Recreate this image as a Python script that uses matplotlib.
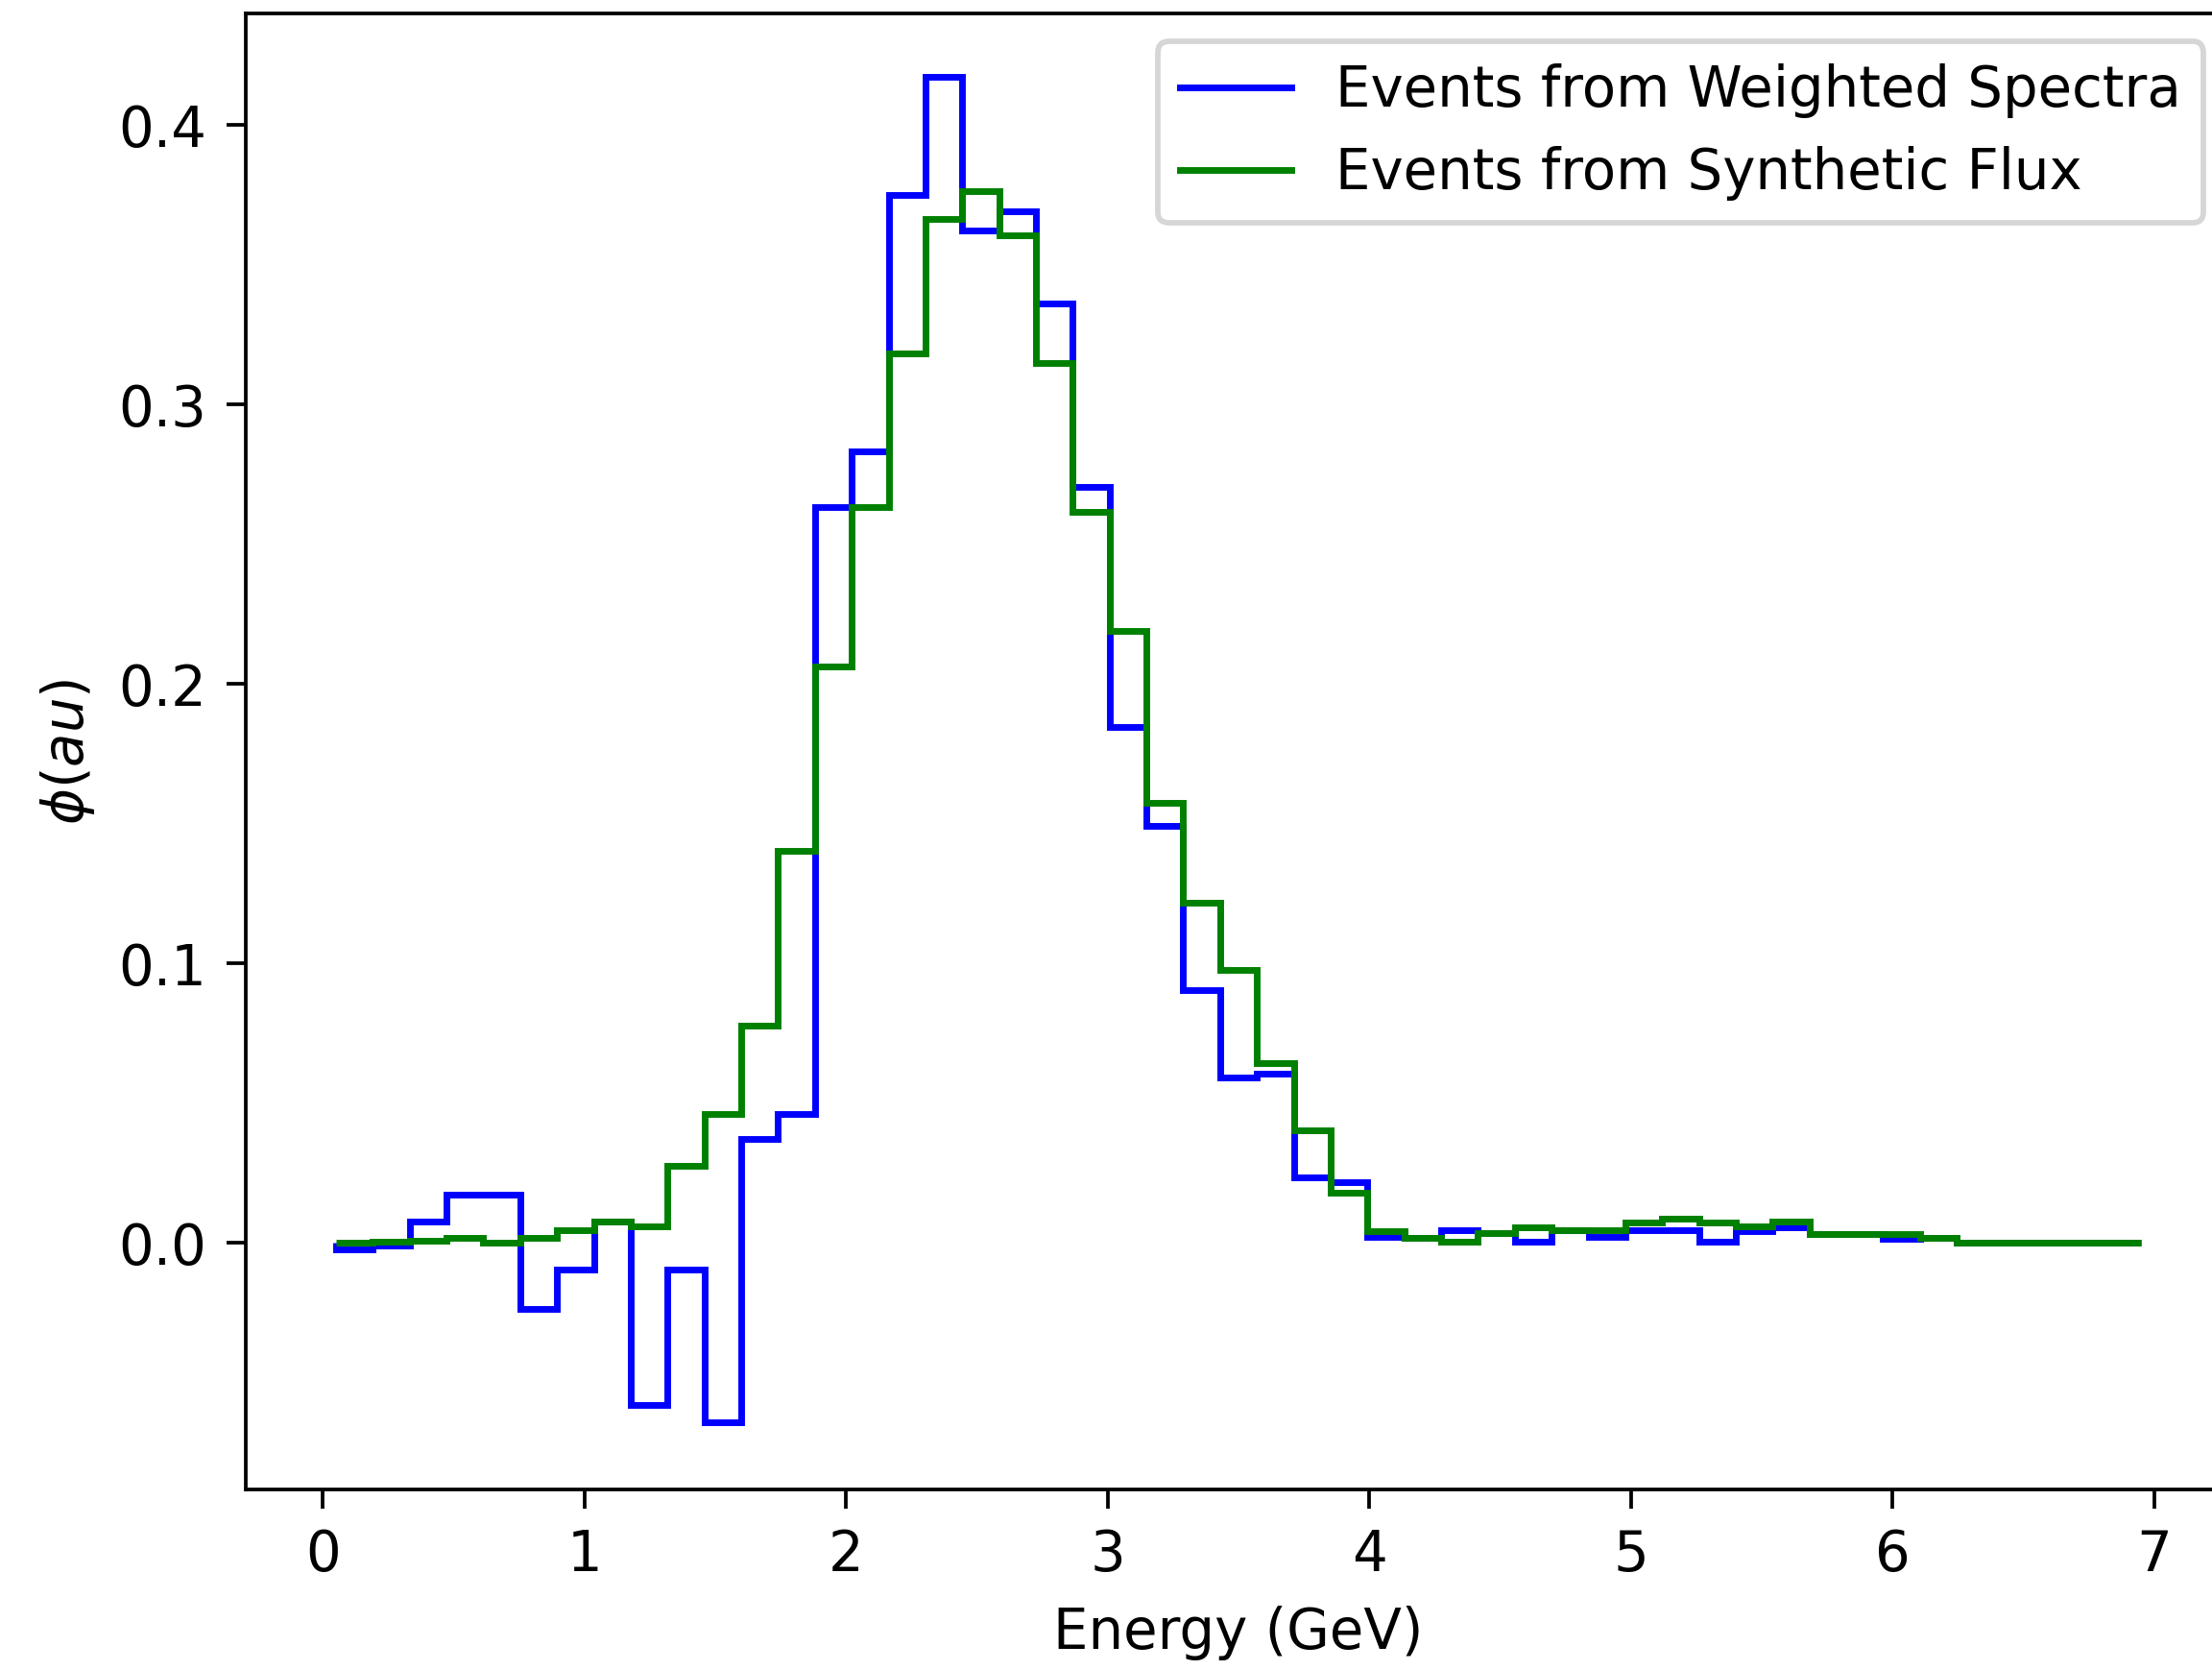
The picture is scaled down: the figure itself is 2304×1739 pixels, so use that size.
import numpy as np
import matplotlib
matplotlib.use("Agg")
import matplotlib.pyplot as plt

# energy binning (GeV): 49 bins between 0.05 and 6.95
E_MIN, E_MAX, N_BINS = 0.05, 6.95, 49
edges = np.linspace(E_MIN, E_MAX, N_BINS + 1)

weighted = [
    -0.0023, -0.0011, 0.0075, 0.0174, 0.0174, -0.0238, -0.0095, 0.0075,
    -0.0582, -0.0095, -0.0642, 0.0371, 0.0461, 0.2634, 0.2833, 0.3750,
    0.4175, 0.3623, 0.3692, 0.3363, 0.2704, 0.1847, 0.1492, 0.0905,
    0.0592, 0.0606, 0.0234, 0.0217, 0.0020, 0.0016, 0.0045, 0.0034,
    0.0005, 0.0045, 0.0022, 0.0045, 0.0045, 0.0005, 0.0043, 0.0054,
    0.0031, 0.0031, 0.0014, 0.0019, 0.0002, 0.0002, 0.0002, 0.0002,
    0.0002,
]

synthetic = [
    0.0000, 0.0003, 0.0007, 0.0017, 0.0000, 0.0017, 0.0046, 0.0075,
    0.0060, 0.0274, 0.0461, 0.0776, 0.1404, 0.2063, 0.2634, 0.3182,
    0.3663, 0.3763, 0.3606, 0.3150, 0.2618, 0.2190, 0.1574, 0.1217,
    0.0976, 0.0644, 0.0403, 0.0180, 0.0042, 0.0016, 0.0005, 0.0034,
    0.0056, 0.0045, 0.0045, 0.0073, 0.0088, 0.0073, 0.0060, 0.0077,
    0.0031, 0.0031, 0.0031, 0.0019, 0.0002, 0.0002, 0.0002, 0.0002,
    0.0002,
]

plt.rcParams["axes.linewidth"] = 0.65
plt.rcParams["xtick.major.width"] = 0.65
plt.rcParams["ytick.major.width"] = 0.65

DPI = 416
fig = plt.figure(figsize=(2304 / DPI, 1739 / DPI), dpi=DPI)
# axes runs a bit past the right edge, as in the original crop
ax = fig.add_axes([0.1111, 0.1081, 0.8976, 0.8838])

ax.stairs(weighted, edges, color="blue", linewidth=1.2,
          label="Events from Weighted Spectra")
ax.stairs(synthetic, edges, color="green", linewidth=1.2,
          label="Events from Synthetic Flux")

ax.set_xlim(-0.295, 7.295)
ax.set_ylim(-0.0883, 0.440)
ax.set_xticks(range(0, 8))
ax.set_yticks([0.0, 0.1, 0.2, 0.3, 0.4])
ax.set_xlabel("Energy (GeV)")
ax.set_ylabel(r"$\phi (au)$")
leg = ax.legend(loc="upper right")
for line in leg.get_lines():
    line.set_linewidth(1.2)

fig.savefig("out.png", dpi=DPI)
